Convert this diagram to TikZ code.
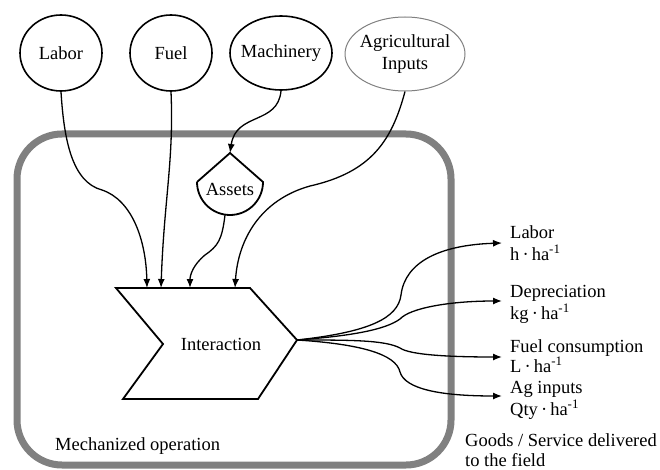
\documentclass[tikz,border=0pt]{standalone}
\usepackage{fontspec}
\setmainfont{Liberation Serif}
\usetikzlibrary{shapes.geometric,arrows.meta}
\begin{document}
\begin{tikzpicture}[x=1pt,y=-1pt,
  font=\fontsize{18.5}{22}\selectfont,
  src/.style={ellipse,draw,line width=1.6pt,inner sep=0pt,minimum height=76pt},
  frame/.style={draw=gray,line width=7pt,rounded corners=45pt},
  shapeline/.style={draw,line width=1.8pt,line join=miter},
  conn/.style={line width=1.3pt,-{Latex[length=9pt,width=7pt]}},
  lbl/.style={anchor=base west,inner sep=0pt}]
\useasboundingbox (0,0) rectangle (660,470);

% frame
\draw[frame] (17,134) rectangle (451,465);
\node[lbl] (mech) at (55,450) {Mechanized operation};

% source ellipses
\node[src,minimum width=82pt] (labor) at (61,53) {\makebox[0pt]{Labor}};
\node[src,minimum width=82pt] (fuel) at (171,53) {\makebox[0pt]{Fuel}};
\node[src,minimum width=102pt,minimum height=74pt] (mach) at (281,53) {\makebox[0pt]{Machinery}};
\node[ellipse,draw=gray,line width=1pt,inner sep=0pt,minimum width=120pt,minimum height=74pt] (agin) at (405,54)
  {\makebox[0pt]{\raisebox{2pt}{\begin{tabular}{@{}c@{}}Agricultural\\Inputs\end{tabular}}}};

% assets
\coordinate (assetsTop) at (230,153);
\coordinate (assetsBot) at (225,215);
\draw[shapeline] (197,182) -- (assetsTop) -- (263,182) arc[start angle=0,end angle=-180,radius=33pt];
\node (assets) at (230,189) {Assets};

% interaction chevron
\coordinate (chTL) at (116,288);
\coordinate (chTR) at (250,288);
\coordinate (chR) at (297,340);
\coordinate (chBR) at (258,399);
\coordinate (chBL) at (123,399);
\coordinate (chN) at (163,344);
\draw[shapeline] (chTL) -- (chTR) -- (chR) -- (chBR) -- (chBL) -- (chN) -- cycle;
\node (inter) at (221,344) {Interaction};

\coordinate (in1) at (147,288);
\coordinate (in2) at (161,288);
\coordinate (in3) at (190,288);
\coordinate (in4) at (235,288);

% inputs
\draw[conn] (labor.south) .. controls (64,140) and (72,182) .. (102,190) .. controls (132,200) and (146,240) .. (in1);
\draw[conn] (fuel.south) .. controls (174,160) and (164,200) .. (in2);
\draw[conn] (mach.south) .. controls (278,125) and (236,112) .. (assetsTop);
\draw[conn] (assetsBot) .. controls (222,240) and (218,246) .. (205,255) .. controls (193,265) and (190,275) .. (in3);
\draw[conn] (agin.south) .. controls (392,140) and (372,172) .. (310,186) .. controls (260,200) and (238,240) .. (in4);

% outputs
\coordinate (oA) at (502,243);
\coordinate (oB) at (502,301);
\coordinate (oC) at (502,357);
\coordinate (oD) at (502,396);
\draw[conn] (chR) .. controls (370,332) and (398,318) .. (401,295) .. controls (405,262) and (440,245) .. (oA);
\draw[conn] (chR) .. controls (350,336) and (385,330) .. (400,319) .. controls (410,308) and (450,301) .. (oB);
\draw[conn] (chR) .. controls (350,340) and (385,340) .. (400,348) .. controls (410,355) and (450,357) .. (oC);
\draw[conn] (chR) .. controls (360,344) and (396,354) .. (400,372) .. controls (405,389) and (440,396) .. (oD);

% output labels
\node[lbl] (lA1) at (510,238) {Labor};
\node[lbl] (lA2) at (510,260) {h\,·\,ha\textsuperscript{-1}};
\node[lbl] (lB1) at (510,297) {Depreciation};
\node[lbl] (lB2) at (510,319) {kg\,·\,ha\textsuperscript{-1}};
\node[lbl] (lC1) at (510,352) {Fuel consumption};
\node[lbl] (lC2) at (510,372) {L\,·\,ha\textsuperscript{-1}};
\node[lbl] (lD1) at (510,393) {Ag inputs};
\node[lbl] (lD2) at (510,415) {Qty\,·\,ha\textsuperscript{-1}};
\node[lbl] (goods1) at (465,446) {Goods / Service delivered};
\node[lbl] (goods2) at (465,466) {to the field};
\end{tikzpicture}
\end{document}
